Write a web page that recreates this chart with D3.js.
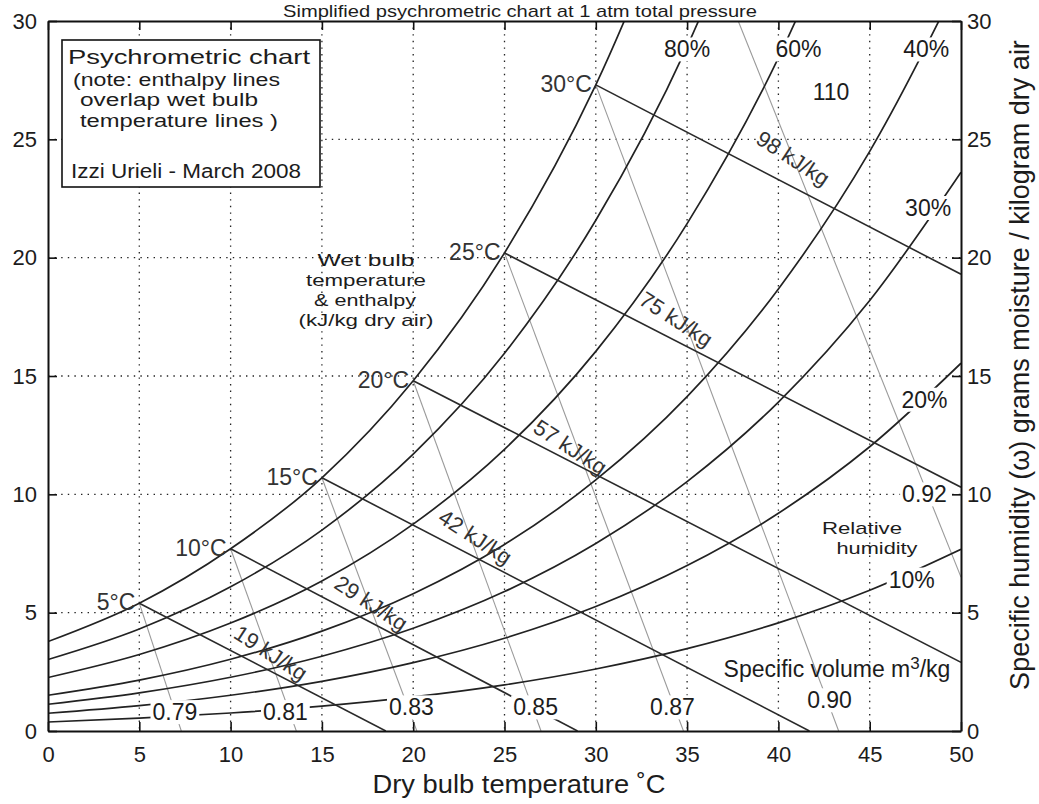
<!DOCTYPE html>
<html><head><meta charset="utf-8">
<script src="https://cdn.jsdelivr.net/npm/d3@7"></script>
<style>body{margin:0;background:#fff}</style>
</head><body>
<svg id="c" width="1039" height="804"></svg>
<script>
// ---------- data ----------
const temps = [0,5,10,15,20,25,30,35,40,45,50];
// specific humidity (g/kg) along relative humidity curves
const rh100 = [3.78,5.40,7.70,10.70,14.80,20.20,27.30,36.60];
const rh80  = [3.02,4.31,6.09,8.49,11.70,15.96,21.58,28.92,38.50];
const rh60  = [2.26,3.23,4.56,6.34,8.74,11.90,16.04,21.44,28.44,37.50];
const rh40  = [1.51,2.15,3.03,4.22,5.80,7.88,10.61,14.13,18.68,24.49,31.88];
const rh30  = [1.13,1.61,2.27,3.16,4.34,5.89,7.92,10.54,13.90,18.19,23.61];
const rh20  = [0.75,1.07,1.51,2.10,2.89,3.92,5.26,6.99,9.20,12.01,15.54];
const rh10  = [0.38,0.54,0.76,1.05,1.44,1.95,2.62,3.48,4.57,5.95,7.68];
const rhLabels = ["80%","60%","40%","30%","20%","10%"];
const rhLabelT = [35.0,41.1,48.1,48.2,48.0,47.3];
const rhLabelW = [28.8,28.8,28.8,22.1,14.0,6.4];

// wet bulb / enthalpy lines
const wbLabels = ["5°C","10°C","15°C","20°C","25°C","30°C"];
const wbT = [5,10,15,20,25,30];
const wbW = [5.4,7.7,10.7,14.8,20.2,27.3];
const hEndT = [18.5,29.0,41.7,50,50,50];
const hEndW = [0,0,0,2.9,10.3,19.3];
const hLabels = ["19 kJ/kg","29 kJ/kg","42 kJ/kg","57 kJ/kg","75 kJ/kg","98 kJ/kg"];
const hLabelT = [12.2,17.7,23.4,28.6,34.4,40.8];
const hLabelW = [3.3,5.4,8.2,12.0,17.4,24.2];

// specific volume lines
const vLabels = ["0.79","0.81","0.83","0.85","0.87","0.90","0.92"];
const vTopT = [5,10,15,20,25,30,37.8];
const vTopW = [5.4,7.7,10.7,14.8,20.2,27.3,30];
const vBotT = [7.3,13.6,20.2,27.0,34.8,43.3,50];
const vBotW = [0,0,0,0,0,0,6.5];
const vLabelT = [6.95,13.0,19.9,26.7,34.2,42.8,48.0];
const vLabelW = [0.8,0.8,1.0,1.0,1.0,1.3,10.0];

const xTicks = [0,5,10,15,20,25,30,35,40,45,50];
const yTicks = [0,5,10,15,20,25,30];

// ---------- drawing ----------
const FONT = "'Liberation Sans', Arial, Helvetica, sans-serif";
const INK = "#1c1c1c";
const svg = d3.select("#c").style("font-family", FONT);
const x = d3.scaleLinear().domain([0,50]).range([48,961]);
const y = d3.scaleLinear().domain([0,30]).range([731,21]);

svg.append("rect").attr("width",1039).attr("height",804).attr("fill","#fff");

svg.append("defs").append("clipPath").attr("id","plot")
  .append("rect").attr("x",48).attr("y",21).attr("width",913).attr("height",710);

// grid
const grid = svg.append("g").attr("stroke","#222").attr("stroke-width",1.3)
  .attr("stroke-dasharray","1.4 5.2");
grid.selectAll("line.v").data(xTicks.slice(1,-1)).join("line")
  .attr("x1",d=>x(d)).attr("x2",d=>x(d)).attr("y1",y(30)).attr("y2",y(0));
grid.selectAll("line.h").data(yTicks.slice(1,-1)).join("line")
  .attr("class","h").attr("y1",d=>y(d)).attr("y2",d=>y(d)).attr("x1",x(0)).attr("x2",x(50));

const plot = svg.append("g").attr("clip-path","url(#plot)");

// specific volume lines
plot.append("g").selectAll("line").data(vLabels).join("line")
  .attr("x1",(d,i)=>x(vTopT[i])).attr("y1",(d,i)=>y(vTopW[i]))
  .attr("x2",(d,i)=>x(vBotT[i])).attr("y2",(d,i)=>y(vBotW[i]))
  .attr("stroke","#9a9a9a").attr("stroke-width",1.1);

// relative humidity curves
const rhSeries = [rh100,rh80,rh60,rh40,rh30,rh20,rh10];
const rhLine = d3.line().x((d,i)=>x(temps[i])).y(d=>y(d)).curve(d3.curveMonotoneX);
plot.append("g").selectAll("path").data(rhSeries).join("path")
  .attr("d",rhLine).attr("fill","none").attr("stroke","#222").attr("stroke-width",1.7);

// enthalpy lines
plot.append("g").selectAll("line").data(wbT).join("line")
  .attr("x1",(d,i)=>x(wbT[i])).attr("y1",(d,i)=>y(wbW[i]))
  .attr("x2",(d,i)=>x(hEndT[i])).attr("y2",(d,i)=>y(hEndW[i]))
  .attr("stroke","#2a2a2a").attr("stroke-width",1.6);

// labels with white background
function bgLabel(parent, px, py, txt, size){
  const g = parent.append("g");
  const t = g.append("text").attr("x",px).attr("y",py).attr("dy","0.35em")
    .attr("text-anchor","middle").attr("font-size",size).attr("fill",INK).text(txt);
  const b = t.node().getBBox();
  g.insert("rect","text").attr("x",b.x-2).attr("y",b.y+1).attr("width",b.width+4)
    .attr("height",b.height-2).attr("fill","#fff");
}
const lab = svg.append("g");
rhLabels.forEach((s,i)=>bgLabel(lab, x(rhLabelT[i]), y(rhLabelW[i]), s, 23));
vLabels.forEach((s,i)=>bgLabel(lab, x(vLabelT[i]), y(vLabelW[i]), s, 23));

// enthalpy labels (rotated)
lab.append("g").selectAll("text").data(hLabels).join("text")
  .attr("transform",(d,i)=>`translate(${x(hLabelT[i])},${y(hLabelW[i])}) rotate(33)`)
  .attr("text-anchor","middle").attr("dy","0.35em").attr("font-size",22)
  .attr("fill","#333").text(d=>d);

// wet bulb temperature labels
lab.append("g").selectAll("text").data(wbLabels).join("text")
  .attr("x",(d,i)=>x(wbT[i])-4).attr("y",(d,i)=>y(wbW[i])).attr("dy","0.3em")
  .attr("text-anchor","end").attr("font-size",23).attr("fill","#333").text(d=>d);

// annotation texts (wide, compact glyphs as in the scan)
function multi(lines, xs, baselines, size, anchor, widths){
  lines.forEach((s,i)=>{
    const t = svg.append("text").attr("x",xs[i]).attr("y",baselines[i])
      .attr("text-anchor",anchor||"middle").attr("font-size",size).attr("fill",INK).text(s);
    if (widths) t.attr("textLength",widths[i]).attr("lengthAdjust","spacingAndGlyphs");
  });
}
multi(["Wet bulb","temperature","& enthalpy","(kJ/kg dry air)"],[366,366,365,366],
      [266,286,306,326],17,"middle",[97,120,102,135]);
multi(["Relative","humidity"],[862,877],[534,554],17,"middle",[80,81]);
multi(["110"],[831],[100],23);
const sv = svg.append("text").attr("x",837).attr("y",677).attr("text-anchor","middle")
  .attr("font-size",23).attr("fill",INK);
sv.append("tspan").text("Specific volume m");
sv.append("tspan").attr("dy",-8).attr("font-size",17).text("3");
sv.append("tspan").attr("dy",8).text("/kg");

// legend box
svg.append("rect").attr("x",62).attr("y",40).attr("width",258).attr("height",147)
  .attr("fill","#fff").attr("stroke","#111").attr("stroke-width",1.6);
multi(["Psychrometric chart"],[68],[64],21,"start",[242]);
multi(["(note: enthalpy lines","overlap wet bulb","temperature lines )"],[73,80,80],
      [86,106,127],17.5,"start",[207,178,198]);
multi(["Izzi Urieli - March 2008"],[71],[178],20,"start",[230]);

// axes (inward ticks, MATLAB box)
function styleAxis(g){
  g.select(".domain").attr("stroke","#111").attr("stroke-width",2);
  g.selectAll(".tick line").attr("stroke","#111").attr("stroke-width",1.6);
  g.selectAll(".tick text").attr("fill",INK).attr("font-size",22).attr("font-family",FONT);
}
svg.append("g").attr("transform",`translate(0,${y(0)})`)
  .call(d3.axisBottom(x).tickValues(xTicks).tickSizeInner(-9).tickSizeOuter(0).tickPadding(15))
  .call(styleAxis);
svg.append("g").attr("transform",`translate(0,${y(30)})`)
  .call(d3.axisTop(x).tickValues(xTicks).tickSizeInner(-9).tickSizeOuter(0).tickFormat(""))
  .call(styleAxis);
svg.append("g").attr("transform",`translate(${x(0)},0)`)
  .call(d3.axisLeft(y).tickValues(yTicks).tickSizeInner(-9).tickSizeOuter(0).tickPadding(11))
  .call(styleAxis);
svg.append("g").attr("transform",`translate(${x(50)},0)`)
  .call(d3.axisRight(y).tickValues(yTicks).tickSizeInner(-9).tickSizeOuter(0).tickPadding(6))
  .call(styleAxis);

// titles
svg.append("text").attr("x",520).attr("y",17).attr("text-anchor","middle")
  .attr("font-size",17).attr("fill",INK).attr("textLength",474).attr("lengthAdjust","spacingAndGlyphs")
  .text("Simplified psychrometric chart at 1 atm total pressure");
svg.append("text").attr("x",519).attr("y",793).attr("text-anchor","middle")
  .attr("font-size",25).attr("fill",INK).attr("textLength",293).attr("lengthAdjust","spacingAndGlyphs")
  .text("Dry bulb temperature ˚C");
svg.append("text").attr("transform","translate(1029,365) rotate(-90)").attr("text-anchor","middle")
  .attr("font-size",27).attr("fill",INK).text("Specific humidity (ω) grams moisture / kilogram dry air");
</script>
</body></html>
